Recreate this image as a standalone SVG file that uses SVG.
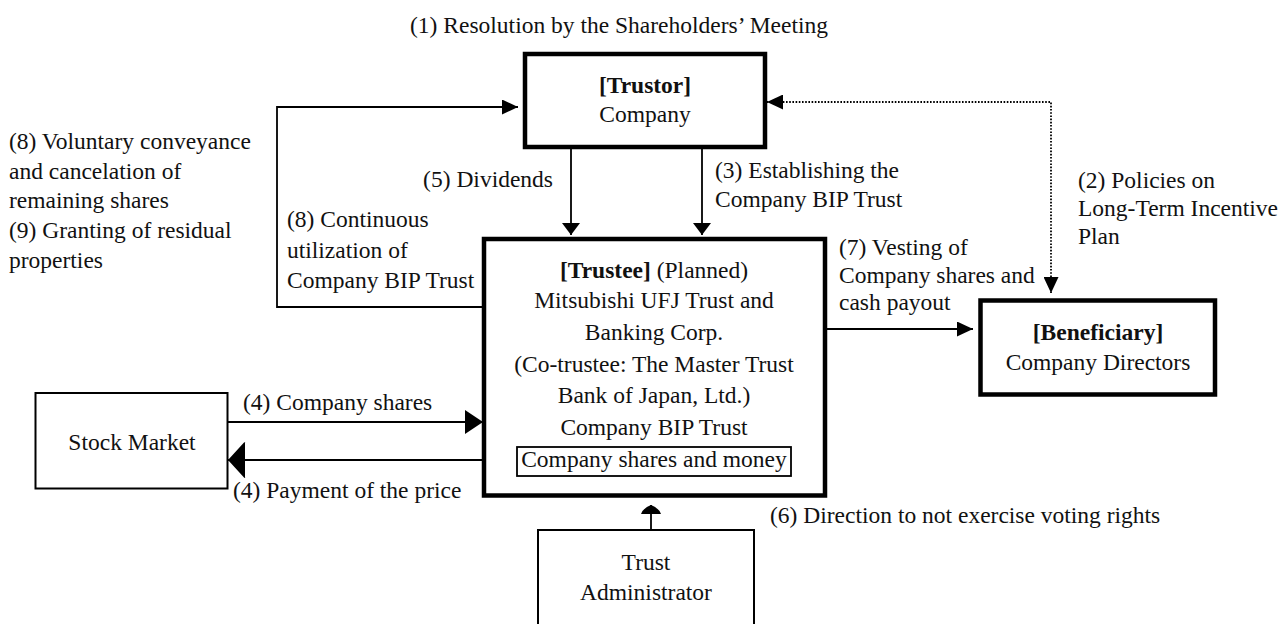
<svg xmlns="http://www.w3.org/2000/svg" width="1285" height="624" viewBox="0 0 1285 624">
<style>
text{font-family:"Liberation Serif","Times New Roman",serif;font-size:23.5px;fill:#111}
.b{font-weight:bold}
.c{text-anchor:middle}
.r{text-anchor:end}
.thick{fill:#fff;stroke:#000;stroke-width:4.5}
.thin{fill:#fff;stroke:#000;stroke-width:2}
.ln{fill:none;stroke:#000;stroke-width:1.8}
.dot{fill:none;stroke:#000;stroke-width:1.8;stroke-dasharray:1.6 1.6}
</style>
<defs>
<marker id="mMed" markerUnits="userSpaceOnUse" markerWidth="16" markerHeight="15" refX="16" refY="7.5" orient="auto-start-reverse"><path d="M0,0 L16,7.5 L0,15 z" fill="#000"/></marker>
<marker id="mDown" markerUnits="userSpaceOnUse" markerWidth="12" markerHeight="18" refX="12" refY="9" orient="auto"><path d="M0,0 L12,9 L0,18 z" fill="#000"/></marker>
<marker id="mBig" markerUnits="userSpaceOnUse" markerWidth="18" markerHeight="24" refX="18" refY="12" orient="auto"><path d="M0,0 L18,12 L0,24 z" fill="#000"/></marker>
<marker id="mHuge" markerUnits="userSpaceOnUse" markerWidth="18" markerHeight="37" refX="18" refY="18.5" orient="auto"><path d="M1,1 Q0,0 2,1 L18,18.5 L2,36 Q0,37 1,36 z" fill="#000"/></marker>
<marker id="mAdm" markerUnits="userSpaceOnUse" markerWidth="9" markerHeight="20" refX="9" refY="10" orient="auto"><path d="M0,0 Q6,2 9,10 Q6,18 0,20 z" fill="#000"/></marker>
</defs>

<text x="619" y="33" class="c">(1) Resolution by the Shareholders’ Meeting</text>

<g id="connectors">
<path class="ln" d="M482,307 H277 V107 H518" marker-end="url(#mMed)"/>
<path class="ln" d="M571,149 V235" marker-end="url(#mDown)"/>
<path class="ln" d="M702,149 V235" marker-end="url(#mDown)"/>
<path class="dot" d="M1051,293 V102 H767" marker-start="url(#mMed)" marker-end="url(#mMed)"/>
<path class="ln" d="M827,329 H973" marker-end="url(#mMed)"/>
<path class="ln" d="M228,422 H483" marker-end="url(#mBig)"/>
<path class="ln" d="M507,460 H228" marker-end="url(#mHuge)"/>
<path class="ln" d="M651,530 V505" marker-end="url(#mAdm)"/>
</g>

<g id="labels">
<text x="9" y="149">(8) Voluntary conveyance</text>
<text x="9" y="179">and cancelation of</text>
<text x="9" y="208">remaining shares</text>
<text x="9" y="238">(9) Granting of residual</text>
<text x="9" y="268">properties</text>
<text x="553" y="187" class="r">(5) Dividends</text>
<text x="715" y="178">(3) Establishing the</text>
<text x="715" y="207">Company BIP Trust</text>
<text x="287" y="227">(8) Continuous</text>
<text x="287" y="258">utilization of</text>
<text x="287" y="288">Company BIP Trust</text>
<text x="1078" y="188">(2) Policies on</text>
<text x="1078" y="216">Long-Term Incentive</text>
<text x="1078" y="244">Plan</text>
<text x="839" y="255">(7) Vesting of</text>
<text x="839" y="283">Company shares and</text>
<text x="839" y="310">cash payout</text>
<text x="243" y="410">(4) Company shares</text>
<text x="233" y="498">(4) Payment of the price</text>
<text x="770" y="523">(6) Direction to not exercise voting rights</text>
</g>

<g id="trustor">
<rect class="thick" x="525" y="54" width="240" height="93"/>
<text x="645" y="93" class="c b">[Trustor]</text>
<text x="645" y="122" class="c">Company</text>
</g>

<g id="trustee">
<rect class="thick" x="484" y="239" width="341" height="256.5"/>
<text x="654" y="278" class="c"><tspan class="b">[Trustee]</tspan> (Planned)</text>
<text x="654" y="308" class="c">Mitsubishi UFJ Trust and</text>
<text x="654" y="340" class="c">Banking Corp.</text>
<text x="654" y="372" class="c">(Co-trustee: The Master Trust</text>
<text x="654" y="403" class="c">Bank of Japan, Ltd.)</text>
<text x="654" y="435" class="c">Company BIP Trust</text>
</g>

<g id="trust-assets">
<rect class="thin" x="517" y="447" width="274" height="29" style="stroke-width:1.8"/>
<text x="654" y="467" class="c">Company shares and money</text>
</g>

<g id="beneficiary">
<rect class="thick" x="980.5" y="300.5" width="234.5" height="94"/>
<text x="1098" y="340" class="c b">[Beneficiary]</text>
<text x="1098" y="370" class="c">Company Directors</text>
</g>

<g id="stock-market">
<rect class="thin" x="35.5" y="393" width="192" height="95.5"/>
<text x="132" y="450" class="c">Stock Market</text>
</g>

<g id="trust-administrator">
<rect class="thin" x="538" y="530" width="216" height="100"/>
<text x="646" y="570" class="c">Trust</text>
<text x="646" y="600" class="c">Administrator</text>
</g>
</svg>
